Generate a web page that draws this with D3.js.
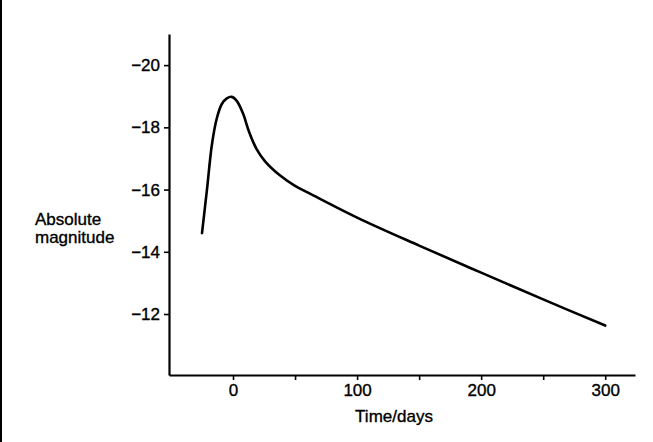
<!DOCTYPE html>
<html>
<head>
<meta charset="utf-8">
<script src="https://cdn.jsdelivr.net/npm/d3@7"></script>
<style>
  body { margin: 0; background: #fff; }
  text { font-family: "Liberation Sans", Arial, sans-serif; fill: #000; stroke: #000; stroke-width: 0.35px; }
</style>
</head>
<body>
<div class="chart"></div>
<script>
// light curve data
var days = [-25, -21, -17, -13, -9, -5, -1, 3, 8, 13, 19, 26, 38, 50, 62, 100, 150, 200, 250, 300];
var magnitudes = [-14.6, -16.0, -17.45, -18.3, -18.75, -18.93, -18.98, -18.85, -18.45, -17.85, -17.3, -16.9, -16.45, -16.12, -15.87, -15.1, -14.2, -13.33, -12.47, -11.63];

var xMajorTicks = [0, 100, 200, 300];
var xMinorTicks = [50, 150, 250];
var yTicks = [-20, -18, -16, -14, -12];

var svgWidth = 653;
var svgHeight = 442;

var margin = { top: 34, right: 18, bottom: 67, left: 169 };

var width = svgWidth - margin.left - margin.right;
var height = svgHeight - margin.top - margin.bottom;

var svg = d3.select(".chart")
  .append("svg")
  .attr("width", svgWidth)
  .attr("height", svgHeight);

// left frame edge
svg.append("rect")
  .attr("x", 0).attr("y", 0)
  .attr("width", 2).attr("height", svgHeight)
  .attr("fill", "#000");

var chartGroup = svg.append("g")
  .attr("transform", `translate(${margin.left}, ${margin.top})`);

var xScale = d3.scaleLinear()
  .domain([-51.6, 324])
  .range([0, width]);

var yScale = d3.scaleLinear()
  .domain([-10.04, -21])
  .range([height, 0]);

var fmt = d => d3.format("d")(d).replace("-", "\u2212");

// x axis
var xAxis = chartGroup.append("g")
  .attr("transform", `translate(0, ${height})`)
  .call(d3.axisBottom(xScale).tickValues(xMajorTicks).tickSize(5).tickSizeOuter(0).tickPadding(4).tickFormat(fmt));

chartGroup.append("g")
  .attr("transform", `translate(0, ${height})`)
  .call(d3.axisBottom(xScale).tickValues(xMinorTicks).tickSize(5).tickFormat(""))
  .select(".domain").remove();

// y axis
var yAxis = chartGroup.append("g")
  .call(d3.axisLeft(yScale).tickValues(yTicks).tickSize(5).tickSizeOuter(0).tickPadding(4).tickFormat(fmt));

svg.selectAll(".domain")
  .attr("stroke", "#000")
  .attr("stroke-width", 2.2);

svg.selectAll(".tick line")
  .attr("stroke", "#000")
  .attr("stroke-width", 1.6);

svg.selectAll(".tick text")
  .style("font-family", "'Liberation Sans', Arial, sans-serif")
  .style("font-size", "17px")
  .attr("fill", "#000");

// curve
var line = d3.line()
  .x((d, i) => xScale(days[i]))
  .y(d => yScale(d))
  .curve(d3.curveCatmullRom.alpha(0.5));

chartGroup.append("path")
  .datum(magnitudes)
  .attr("d", line)
  .attr("fill", "none")
  .attr("stroke", "#000")
  .attr("stroke-width", 2.6)
  .attr("stroke-linecap", "round")
  .attr("stroke-linejoin", "round");

// labels
svg.append("text")
  .attr("x", 394)
  .attr("y", 422)
  .attr("text-anchor", "middle")
  .style("font-size", "17px")
  .text("Time/days");

var yLabel = svg.append("text")
  .attr("x", 35)
  .attr("y", 225)
  .style("font-size", "17px");

yLabel.append("tspan").attr("x", 35).attr("y", 225).text("Absolute");
yLabel.append("tspan").attr("x", 35).attr("y", 243).text("magnitude");
</script>
</body>
</html>
